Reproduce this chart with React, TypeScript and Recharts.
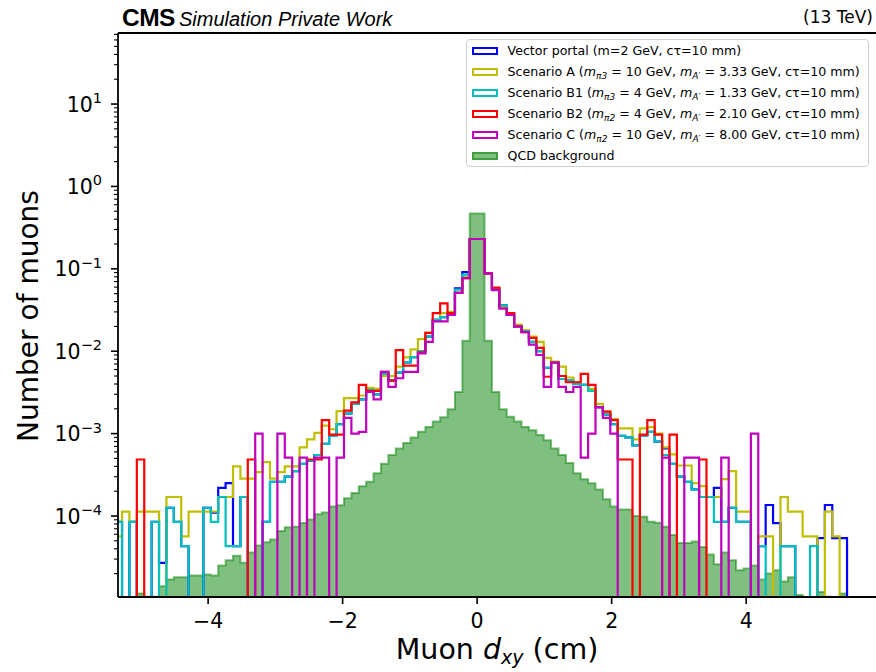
import { Area, ComposedChart, Line, ReferenceLine, XAxis, YAxis } from "recharts";

// histogram binning: 100 bins of 0.11 cm over [-5.5, 5.5]
const BIN_START = -5.5;
const BIN_WIDTH = 0.11;
const N_BINS = 100;

// normalised muon counts per bin (0 = empty bin)
const VECTOR_PORTAL = [
  8.5e-5, 8.5e-5, 0, 8.5e-5, 0, 0, 8.5e-5, 2.7e-5, 1.26e-4, 8.5e-5,
  4.3e-5, 0, 0, 1.26e-4, 1.1e-4, 2.2e-4, 2.5e-4, 4.3e-5, 1.7e-4, 0,
  0, 8.5e-5, 2.6e-4, 2.6e-4, 3.0e-4, 3.5e-4, 4.3e-4, 4.7e-4, 5.5e-4, 7.5e-4,
  9.5e-4, 1.3e-3, 1.75e-3, 2.3e-3, 2.6e-3, 3.4e-3, 3.0e-3, 5.3e-3, 4.4e-3, 5.5e-3,
  7.3e-3, 8.5e-3, 1.0e-2, 1.5e-2, 2.4e-2, 2.6e-2, 2.9e-2, 5.8e-2, 9.1e-2, 0.23,
  0.23, 8.8e-2, 5.8e-2, 3.6e-2, 2.8e-2, 2.0e-2, 1.75e-2, 1.3e-2, 1.0e-2, 6.3e-3,
  7.3e-3, 4.6e-3, 4.4e-3, 4.0e-3, 3.9e-3, 3.3e-3, 2.1e-3, 1.7e-3, 1.3e-3, 9.4e-4,
  9.0e-4, 7.2e-4, 9.5e-4, 1.05e-3, 8.0e-4, 6.6e-4, 4.3e-4, 3.0e-4, 2.6e-4, 2.1e-4,
  1.7e-4, 1.7e-4, 2.2e-4, 8.5e-5, 1.26e-4, 8.5e-5, 8.5e-5, 0, 4.3e-5, 1.36e-4,
  8.2e-5, 4.3e-5, 4.3e-5, 0, 0, 0, 5.4e-5, 1.36e-4, 5.4e-5, 5.4e-5,
];

const SCENARIO_A = [
  5.65e-5, 5.65e-5, 1.13e-4, 8.5e-5, 1.13e-4, 1.13e-4, 1.13e-4, 0, 1.7e-4, 1.7e-4,
  5.65e-5, 1.13e-4, 1.13e-4, 1.13e-4, 1.13e-4, 1.7e-4, 1.7e-4, 4.0e-4, 2.85e-4, 2.85e-4,
  3.4e-4, 4.5e-4, 2.85e-4, 3.4e-4, 4.0e-4, 4.0e-4, 6.8e-4, 8.5e-4, 1.02e-3, 1.25e-3,
  1.13e-3, 1.87e-3, 2.7e-3, 2.7e-3, 2.9e-3, 3.6e-3, 3.5e-3, 5.0e-3, 5.0e-3, 6.5e-3,
  8.4e-3, 1.05e-2, 1.4e-2, 1.67e-2, 2.4e-2, 2.9e-2, 3.0e-2, 5.1e-2, 8.0e-2, 0.23,
  0.23, 8.8e-2, 5.7e-2, 3.5e-2, 2.9e-2, 2.1e-2, 1.8e-2, 1.5e-2, 1.3e-2, 8.3e-3,
  7.5e-3, 6.5e-3, 4.8e-3, 4.2e-3, 3.9e-3, 3.5e-3, 2.3e-3, 1.85e-3, 1.5e-3, 1.16e-3,
  1.16e-3, 8.5e-4, 1.16e-3, 1.2e-3, 1.0e-3, 6.8e-4, 5.6e-4, 4.1e-4, 4.1e-4, 2.5e-4,
  2.3e-4, 1.7e-4, 1.7e-4, 2.8e-4, 3.5e-4, 1.13e-4, 1.13e-4, 0, 5.65e-5, 5.65e-5,
  0, 1.7e-4, 1.13e-4, 1.13e-4, 5.65e-5, 5.65e-5, 0, 1.13e-4, 5.65e-5, 0,
];

const SCENARIO_B1 = [
  8.5e-5, 8.5e-5, 0, 8.5e-5, 0, 0, 8.5e-5, 0, 1.26e-4, 8.5e-5,
  4.3e-5, 0, 0, 1.26e-4, 8.5e-5, 1.7e-4, 4.3e-5, 4.3e-5, 1.7e-4, 0,
  0, 8.5e-5, 2.6e-4, 2.6e-4, 3.0e-4, 3.5e-4, 4.3e-4, 4.7e-4, 5.5e-4, 7.5e-4,
  9.5e-4, 1.3e-3, 1.75e-3, 2.3e-3, 2.6e-3, 3.4e-3, 3.0e-3, 5.3e-3, 4.4e-3, 5.5e-3,
  7.3e-3, 8.5e-3, 1.0e-2, 1.5e-2, 2.4e-2, 2.6e-2, 2.9e-2, 5.6e-2, 8.5e-2, 0.23,
  0.23, 8.8e-2, 5.8e-2, 3.6e-2, 2.8e-2, 2.0e-2, 1.75e-2, 1.3e-2, 1.0e-2, 6.3e-3,
  7.3e-3, 4.6e-3, 4.4e-3, 4.0e-3, 3.9e-3, 3.3e-3, 2.1e-3, 1.7e-3, 1.3e-3, 9.4e-4,
  9.0e-4, 7.2e-4, 9.5e-4, 1.05e-3, 8.0e-4, 5.5e-4, 4.3e-4, 3.0e-4, 2.6e-4, 2.1e-4,
  1.7e-4, 1.7e-4, 8.5e-5, 8.5e-5, 1.26e-4, 8.5e-5, 8.5e-5, 0, 4.3e-5, 0,
  0, 4.3e-5, 4.3e-5, 0, 0, 4.3e-5, 0, 0, 0, 0,
];

const SCENARIO_B2 = [
  0, 0, 0, 0, 4.85e-4, 0, 0, 0, 0, 0,
  0, 0, 0, 0, 0, 0, 0, 0, 0, 4.85e-4,
  0, 0, 0, 0, 0, 0, 0, 4.85e-4, 4.85e-4, 1.46e-3,
  9.7e-4, 9.7e-4, 1.9e-3, 2.4e-3, 3.9e-3, 3.3e-3, 3.3e-3, 5.6e-3, 4.4e-3, 1.03e-2,
  6.7e-3, 6.7e-3, 9.7e-3, 1.67e-2, 2.9e-2, 3.8e-2, 2.9e-2, 5.1e-2, 7.7e-2, 0.23,
  0.23, 8.8e-2, 5.9e-2, 3.3e-2, 2.9e-2, 2.0e-2, 1.7e-2, 1.45e-2, 1.1e-2, 4.9e-3,
  7.3e-3, 5.0e-3, 4.2e-3, 4.2e-3, 5.3e-3, 3.9e-3, 2.1e-3, 1.85e-3, 1.46e-3, 4.85e-4,
  4.85e-4, 0, 9.7e-4, 1.46e-3, 9.7e-4, 0, 9.7e-4, 0, 0, 0,
  4.85e-4, 0, 0, 0, 0, 0, 0, 0, 0, 0,
  0, 0, 0, 0, 0, 0, 0, 0, 0, 0,
];

const SCENARIO_C = [
  0, 0, 0, 0, 0, 0, 0, 0, 0, 0,
  0, 0, 0, 0, 0, 0, 0, 0, 0, 0,
  1.0e-3, 0, 0, 1.0e-3, 5.1e-4, 0, 5.1e-4, 0, 5.1e-4, 5.1e-4,
  0, 5.1e-4, 1.55e-3, 1.0e-3, 1.05e-3, 3.2e-3, 2.6e-3, 5.6e-3, 3.7e-3, 4.7e-3,
  5.6e-3, 5.6e-3, 9.4e-3, 1.3e-2, 2.3e-2, 2.3e-2, 2.75e-2, 5.1e-2, 7.7e-2, 0.23,
  0.23, 8.8e-2, 5.5e-2, 3.3e-2, 2.75e-2, 2.0e-2, 1.7e-2, 1.2e-2, 9.0e-3, 3.7e-3,
  7.3e-3, 3.7e-3, 3.2e-3, 3.7e-3, 5.1e-4, 1.0e-3, 2.1e-3, 1.55e-3, 1.0e-3, 0,
  0, 0, 0, 0, 0, 5.1e-4, 0, 0, 5.1e-4, 5.1e-4,
  0, 0, 0, 5.1e-4, 0, 0, 0, 1.0e-3, 0, 0,
  0, 0, 0, 0, 0, 0, 0, 0, 0, 0,
];

const QCD = [
  0, 0, 0, 0, 1.15e-5, 1.05e-5, 1.05e-5, 1.4e-5, 1.7e-5, 1.8e-5,
  1.8e-5, 1.9e-5, 1.9e-5, 1.95e-5, 1.9e-5, 2.5e-5, 2.9e-5, 3.3e-5, 2.7e-5, 3.6e-5,
  4.4e-5, 4.8e-5, 5.2e-5, 6.6e-5, 7.3e-5, 7.4e-5, 8.2e-5, 9.1e-5, 1.05e-4, 1.1e-4,
  1.3e-4, 1.35e-4, 1.64e-4, 1.9e-4, 2.3e-4, 2.6e-4, 3.3e-4, 4.3e-4, 5.5e-4, 6.6e-4,
  7.7e-4, 9.0e-4, 1.05e-3, 1.2e-3, 1.4e-3, 1.58e-3, 1.97e-3, 3.2e-3, 1.34e-2, 0.47,
  0.47, 1.34e-2, 3.2e-3, 1.97e-3, 1.6e-3, 1.4e-3, 1.2e-3, 1.1e-3, 9.6e-4, 8.3e-4,
  6.6e-4, 5.5e-4, 4.4e-4, 3.3e-4, 2.8e-4, 2.5e-4, 2.1e-4, 1.6e-4, 1.3e-4, 1.2e-4,
  1.2e-4, 1.0e-4, 9.8e-5, 8.5e-5, 8.3e-5, 7.4e-5, 5.9e-5, 4.7e-5, 4.7e-5, 4.9e-5,
  4.2e-5, 3.4e-5, 2.6e-5, 3.6e-5, 2.9e-5, 2.2e-5, 2.3e-5, 2.5e-5, 1.7e-5, 2.0e-5,
  2.2e-5, 1.6e-5, 1.8e-5, 1.1e-5, 1.0e-5, 0, 1.2e-5, 1.05e-5, 1.0e-5, 1.15e-5,
];

const X_TICKS = [-4, -2, 0, 2, 4];
const Y_DECADES = [-5, -4, -3, -2, -1, 0, 1];
const Y_MIN = 1.04e-5;
const Y_MAX = 72.8;
// empty bins are drawn below the visible range, like matplotlib does on a log axis
const FLOOR = 1e-7;

const FONT = "'DejaVu Sans', sans-serif";
const HELV = "'Liberation Sans', Arial, sans-serif";

type Row = { x: number; vp: number; a: number; b1: number; b2: number; c: number; qcd: number };

const pick = (arr: number[], k: number) => (k < N_BINS && arr[k] > 0 ? arr[k] : FLOOR);

const rows: Row[] = Array.from({ length: N_BINS + 1 }, (_, k) => ({
  x: +(BIN_START + k * BIN_WIDTH).toFixed(4),
  vp: pick(VECTOR_PORTAL, k),
  a: pick(SCENARIO_A, k),
  b1: pick(SCENARIO_B1, k),
  b2: pick(SCENARIO_B2, k),
  c: pick(SCENARIO_C, k),
  qcd: pick(QCD, k),
}));

const yTicks: number[] = [];
Y_DECADES.forEach((e) => {
  for (let m = 1; m <= 9; m++) {
    const v = m * Math.pow(10, e);
    if (v >= Y_MIN && v <= Y_MAX) yTicks.push(v);
  }
});

const fmtExp = (e: number) => (e < 0 ? `\u2212${-e}` : `${e}`);

function YTick(props: any) {
  const { x, y, payload } = props;
  const lg = Math.log10(payload.value);
  const e = Math.round(lg);
  const major = Math.abs(lg - e) < 1e-6;
  return (
    <g>
      <line x1={x} x2={x - (major ? 7 : 4)} y1={y} y2={y} stroke="#000" strokeWidth={major ? 1.6 : 1.1} />
      {major && (
        <text x={x - 16} y={y + 7.5} textAnchor="end" fontFamily={FONT} fontSize={20.5} fill="#000">
          10
          <tspan dy={-8.5} fontSize={14.5}>
            {fmtExp(e)}
          </tspan>
        </text>
      )}
    </g>
  );
}

function XTick(props: any) {
  const { x, y, payload } = props;
  const v = payload.value as number;
  const label = v < 0 ? `\u2212${-v}` : `${v}`;
  return (
    <g>
      <line x1={x} x2={x} y1={y} y2={y + 7} stroke="#000" strokeWidth={1.6} />
      <text x={x} y={y + 31} textAnchor="middle" fontFamily={FONT} fontSize={20.5} fill="#000">
        {label}
      </text>
    </g>
  );
}

const SERIES = [
  { key: "vp", color: "#0000ff" },
  { key: "a", color: "#bfbf00" },
  { key: "b1", color: "#00bfbf" },
  { key: "b2", color: "#ff0000" },
  { key: "c", color: "#bf00bf" },
];

const Sub = ({ children }: { children: string }) => (
  <span style={{ fontSize: 9, fontStyle: "italic", position: "relative", top: 3 }}>{children}</span>
);
const M = () => <span style={{ fontStyle: "italic" }}>m</span>;

const LEGEND = [
  { color: "#0000ff", label: <>Vector portal (m=2 GeV, cτ=10 mm)</> },
  {
    color: "#bfbf00",
    label: (
      <>
        Scenario A (<M />
        <Sub>π3</Sub> = 10 GeV, <M />
        <Sub>A′</Sub> = 3.33 GeV, cτ=10 mm)
      </>
    ),
  },
  {
    color: "#00bfbf",
    label: (
      <>
        Scenario B1 (<M />
        <Sub>π3</Sub> = 4 GeV, <M />
        <Sub>A′</Sub> = 1.33 GeV, cτ=10 mm)
      </>
    ),
  },
  {
    color: "#ff0000",
    label: (
      <>
        Scenario B2 (<M />
        <Sub>π2</Sub> = 4 GeV, <M />
        <Sub>A′</Sub> = 2.10 GeV, cτ=10 mm)
      </>
    ),
  },
  {
    color: "#bf00bf",
    label: (
      <>
        Scenario C (<M />
        <Sub>π2</Sub> = 10 GeV, <M />
        <Sub>A′</Sub> = 8.00 GeV, cτ=10 mm)
      </>
    ),
  },
  { color: "qcd", label: <>QCD background</> },
];

export default function App() {
  return (
    <div
      style={{
        position: "absolute",
        left: 0,
        top: 0,
        width: 876,
        height: 672,
        overflow: "hidden",
        background: "#fff",
      }}
    >
      <ComposedChart width={880} height={672} data={rows} margin={{ top: 33, right: 0, bottom: 0, left: 0 }}>
        {SERIES.map((s) => (
          <Line
            key={s.key}
            dataKey={s.key}
            type="stepAfter"
            stroke={s.color}
            strokeWidth={2.2}
            strokeLinejoin="miter"
            dot={false}
            activeDot={false}
            isAnimationActive={false}
          />
        ))}
        <Area
          dataKey="qcd"
          type="stepAfter"
          baseValue={FLOOR}
          fill="#008000"
          fillOpacity={0.5}
          stroke="#008000"
          strokeOpacity={0.5}
          strokeWidth={2}
          dot={false}
          activeDot={false}
          isAnimationActive={false}
        />
        <XAxis
          dataKey="x"
          type="number"
          domain={[-5.34, 5.99]}
          allowDataOverflow
          ticks={X_TICKS}
          interval={0}
          height={75}
          tickLine={false}
          tickSize={0}
          tickMargin={0}
          tick={<XTick />}
          axisLine={{ stroke: "#000", strokeWidth: 1.8 }}
        />
        <YAxis
          type="number"
          scale="log"
          domain={[Y_MIN, Y_MAX]}
          allowDataOverflow
          ticks={yTicks}
          interval={0}
          width={118}
          tickLine={false}
          tickSize={0}
          tickMargin={0}
          tick={<YTick />}
          axisLine={{ stroke: "#000", strokeWidth: 1.8 }}
        />
        <ReferenceLine y={Y_MAX} stroke="#000" strokeWidth={1.8} />
      </ComposedChart>

      {/* title */}
      <div style={{ position: "absolute", left: 122, top: 6, whiteSpace: "nowrap", lineHeight: 1 }}>
        <span style={{ fontFamily: HELV, fontWeight: 700, fontSize: 24.5, letterSpacing: -0.5 }}>CMS</span>
        <span style={{ fontFamily: HELV, fontStyle: "italic", fontSize: 20, marginLeft: 4 }}>
          Simulation Private Work
        </span>
      </div>
      <div
        style={{ position: "absolute", right: 3, top: 9, fontFamily: FONT, fontSize: 17, lineHeight: 1, whiteSpace: "nowrap" }}
      >
        (13 TeV)
      </div>

      {/* axis titles */}
      <div
        style={{
          position: "absolute",
          left: 29,
          top: 316,
          transform: "translate(-50%, -50%) rotate(-90deg)",
          fontFamily: FONT,
          fontSize: 28,
          whiteSpace: "nowrap",
          lineHeight: 1,
        }}
      >
        Number of muons
      </div>
      <div
        style={{
          position: "absolute",
          left: 497,
          top: 650,
          transform: "translate(-50%, -50%)",
          fontFamily: FONT,
          fontSize: 28.5,
          whiteSpace: "nowrap",
          lineHeight: 1,
        }}
      >
        Muon <span style={{ fontStyle: "italic" }}>d</span>
        <span style={{ fontStyle: "italic", fontSize: 19, position: "relative", top: 5 }}>xy</span> (cm)
      </div>

      {/* legend */}
      <div
        style={{
          position: "absolute",
          left: 466,
          top: 39,
          width: 403,
          height: 128,
          boxSizing: "border-box",
          border: "1px solid #d0d0d0",
          borderRadius: 4,
          background: "rgba(255,255,255,0.8)",
          fontFamily: FONT,
          fontSize: 12.6,
        }}
      >
        {LEGEND.map((item, i) => (
          <div
            key={i}
            style={{ position: "absolute", left: 0, top: 11 + i * 21 - 9, height: 18, display: "flex", alignItems: "center", whiteSpace: "nowrap" }}
          >
            <div
              style={{
                position: "absolute",
                left: 4.5,
                top: 5,
                width: 26,
                height: 8,
                boxSizing: "border-box",
                border: item.color === "qcd" ? "2px solid rgba(0,128,0,0.5)" : `2px solid ${item.color}`,
                background: item.color === "qcd" ? "rgba(0,128,0,0.5)" : "transparent",
              }}
            />
            <div style={{ position: "absolute", left: 40.5, top: 0, lineHeight: "18px" }}>{item.label}</div>
          </div>
        ))}
      </div>
    </div>
  );
}
